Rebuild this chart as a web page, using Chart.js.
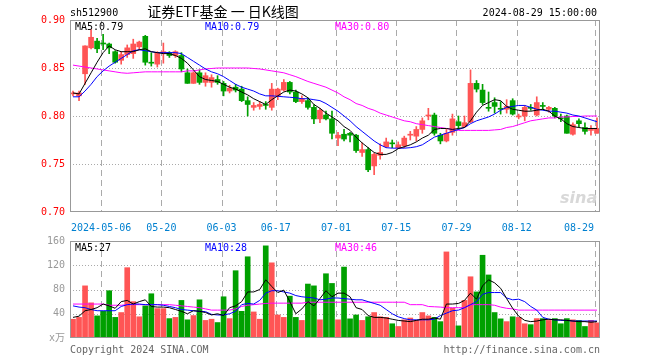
<!DOCTYPE html>
<html><head><meta charset="utf-8">
<script src="https://cdn.jsdelivr.net/npm/chart.js@4.4.1/dist/chart.umd.min.js"></script>
<style>
html,body{margin:0;padding:0;background:#fff;width:660px;height:360px;overflow:hidden;position:relative}
canvas{position:absolute;left:0}
.t{position:absolute;white-space:pre;font-family:"DejaVu Sans Mono",monospace;font-size:10px;line-height:10px}
</style></head><body>
<canvas id="pc" width="660" height="236" style="top:0"></canvas>
<canvas id="vc" width="660" height="134" style="top:226px"></canvas>
<div class="t" style="left:70px;top:8px;color:#000">sh512900</div>
<div class="t" style="left:123px;top:3px;width:200px;text-align:center;font-family:'Noto Sans CJK SC',sans-serif;font-size:14px;line-height:16px;color:#000">证券ETF基金 一 日K线图</div>
<div class="t" style="left:397px;top:8px;width:200px;text-align:right;color:#000">2024-08-29 15:00:00</div>
<div id="m5" class="t" style="left:75px;top:22px;color:#000"></div>
<div id="m10" class="t" style="left:205px;top:22px;color:#0000ff"></div>
<div id="m30" class="t" style="left:335px;top:22px;color:#ff00ff"></div>
<div id="v5" class="t" style="left:75px;top:243px;color:#000"></div>
<div id="v10" class="t" style="left:205px;top:243px;color:#0000ff"></div>
<div id="v30" class="t" style="left:335px;top:243px;color:#ff00ff"></div>
<div class="t" style="left:70px;top:345px;color:#666">Copyright 2024 SINA.COM</div>
<div class="t" style="left:400px;top:345px;width:200px;text-align:right;color:#666">http://finance.sina.com.cn</div>
<div class="t" style="left:560px;top:190px;font-family:'DejaVu Sans',sans-serif;font-style:italic;font-weight:bold;font-size:16px;line-height:16px;color:#d8d8d8">sina</div>
<script>
const dates = ['2024-04-24','2024-04-25','2024-04-26','2024-04-29','2024-04-30',
'2024-05-06','2024-05-07','2024-05-08','2024-05-09','2024-05-10','2024-05-13','2024-05-14','2024-05-15','2024-05-16','2024-05-17',
'2024-05-20','2024-05-21','2024-05-22','2024-05-23','2024-05-24','2024-05-27','2024-05-28','2024-05-29','2024-05-30','2024-05-31',
'2024-06-03','2024-06-04','2024-06-05','2024-06-06','2024-06-07','2024-06-11','2024-06-12','2024-06-13','2024-06-14',
'2024-06-17','2024-06-18','2024-06-19','2024-06-20','2024-06-21','2024-06-24','2024-06-25','2024-06-26','2024-06-27','2024-06-28',
'2024-07-01','2024-07-02','2024-07-03','2024-07-04','2024-07-05','2024-07-08','2024-07-09','2024-07-10','2024-07-11','2024-07-12',
'2024-07-15','2024-07-16','2024-07-17','2024-07-18','2024-07-19','2024-07-22','2024-07-23','2024-07-24','2024-07-25','2024-07-26',
'2024-07-29','2024-07-30','2024-07-31','2024-08-01','2024-08-02','2024-08-05','2024-08-06','2024-08-07','2024-08-08','2024-08-09',
'2024-08-12','2024-08-13','2024-08-14','2024-08-15','2024-08-16','2024-08-19','2024-08-20','2024-08-21','2024-08-22','2024-08-23',
'2024-08-26','2024-08-27','2024-08-28','2024-08-29'];

const opens = [0.823,0.821,0.844,0.871,0.878,0.876,0.875,0.867,0.858,0.864, 0.865,0.872,0.883,0.856,0.854,0.866,0.866,0.863,0.863,0.845,
0.834,0.845,0.835,0.835,0.838,0.834,0.826,0.830,0.828,0.816, 0.809,0.810,0.812,0.809,0.821,0.827,0.835,0.825,0.815,0.816,
0.809,0.797,0.801,0.797,0.777,0.781,0.782,0.780,0.762,0.765, 0.748,0.759,0.768,0.772,0.767,0.769,0.780,0.779,0.786,0.800,
0.801,0.780,0.774,0.783,0.794,0.789,0.794,0.834,0.827,0.809, 0.814,0.808,0.807,0.816,0.799,0.800,0.809,0.801,0.811,0.807,
0.808,0.798,0.800,0.781,0.795,0.788,0.785,0.782];
const highs = [0.826,0.826,0.873,0.890,0.881,0.885,0.876,0.868,0.867,0.874, 0.880,0.878,0.884,0.866,0.867,0.876,0.867,0.868,0.866,0.849,
0.846,0.848,0.845,0.843,0.842,0.836,0.832,0.833,0.831,0.820, 0.814,0.815,0.815,0.834,0.829,0.838,0.836,0.827,0.821,0.819,
0.812,0.808,0.805,0.805,0.783,0.786,0.783,0.781,0.772,0.767, 0.761,0.771,0.777,0.775,0.773,0.779,0.784,0.789,0.798,0.808,
0.803,0.782,0.786,0.802,0.800,0.800,0.848,0.837,0.833,0.825, 0.819,0.815,0.817,0.818,0.802,0.811,0.812,0.820,0.814,0.810,
0.809,0.802,0.801,0.793,0.797,0.793,0.790,0.798];
const lows = [0.821,0.816,0.833,0.870,0.866,0.869,0.865,0.855,0.854,0.861, 0.860,0.869,0.853,0.852,0.851,0.855,0.861,0.861,0.846,0.834,
0.834,0.833,0.831,0.830,0.833,0.821,0.824,0.825,0.815,0.800, 0.806,0.807,0.807,0.806,0.817,0.826,0.823,0.814,0.813,0.807,
0.792,0.793,0.796,0.776,0.769,0.774,0.773,0.762,0.758,0.742, 0.739,0.755,0.767,0.767,0.766,0.767,0.775,0.774,0.782,0.796,
0.780,0.771,0.773,0.780,0.786,0.788,0.793,0.825,0.812,0.805, 0.803,0.802,0.803,0.801,0.797,0.795,0.806,0.800,0.807,0.804,
0.798,0.794,0.782,0.780,0.789,0.781,0.780,0.782];
const closes = [0.824,0.824,0.873,0.882,0.870,0.875,0.871,0.856,0.864,0.871, 0.875,0.877,0.856,0.855,0.866,0.867,0.863,0.867,0.849,0.834,
0.845,0.835,0.842,0.840,0.835,0.826,0.829,0.827,0.816,0.812, 0.811,0.812,0.811,0.828,0.828,0.835,0.825,0.815,0.818,0.809,
0.797,0.806,0.797,0.782,0.780,0.776,0.780,0.764,0.765,0.744, 0.760,0.762,0.773,0.771,0.770,0.777,0.781,0.786,0.795,0.801,
0.782,0.774,0.782,0.797,0.790,0.793,0.834,0.828,0.814,0.808, 0.810,0.807,0.810,0.802,0.800,0.809,0.808,0.814,0.810,0.809,
0.800,0.797,0.782,0.791,0.792,0.784,0.786,0.787];

const ma5 = [0.824,0.823,0.834,0.845,0.856,0.866,0.873,0.869,0.867,0.867, 0.867,0.869,0.870,0.867,0.866,0.865,0.865,0.863,0.860,0.855,
0.848,0.841,0.838,0.837,0.836,0.833,0.830,0.828,0.825,0.822, 0.818,0.815,0.812,0.817,0.821,0.825,0.827,0.826,0.823,0.819,
0.812,0.808,0.803,0.799,0.795,0.789,0.785,0.778,0.772,0.767, 0.762,0.760,0.760,0.762,0.766,0.768,0.770,0.773,0.777,0.780,
0.786,0.787,0.787,0.786,0.787,0.788,0.795,0.804,0.811,0.814, 0.817,0.816,0.810,0.807,0.806,0.805,0.805,0.806,0.807,0.805,
0.800,0.797,0.792,0.789,0.788,0.787,0.787,0.787];
const ma10 = [0.820,0.820,0.826,0.833,0.841,0.847,0.852,0.856,0.860,0.864, 0.868,0.869,0.868,0.867,0.866,0.866,0.866,0.866,0.865,0.861,
0.857,0.853,0.849,0.846,0.844,0.841,0.837,0.833,0.830,0.828, 0.826,0.823,0.821,0.821,0.8205,0.820,0.8195,0.819,0.818,0.818,
0.817,0.816,0.813,0.809,0.805,0.800,0.795,0.789,0.784,0.779, 0.774,0.770,0.767,0.7665,0.7665,0.7665,0.767,0.768,0.770,0.774,
0.778,0.780,0.782,0.784,0.786,0.788,0.792,0.795,0.797,0.799, 0.802,0.806,0.809,0.810,0.811,0.811,0.809,0.807,0.806,0.805,
0.805,0.804,0.803,0.801,0.800,0.798,0.796,0.794];
const ma30 = [0.853,0.852,0.851,0.850,0.849,0.848,0.847,0.846,0.845,0.8445, 0.845,0.8455,0.846,0.846,0.846,0.846,0.846,0.846,0.846,0.847,
0.847,0.848,0.849,0.8495,0.850,0.850,0.850,0.850,0.850,0.850, 0.8495,0.849,0.848,0.847,0.846,0.845,0.843,0.841,0.8385,0.836,
0.834,0.832,0.830,0.827,0.824,0.820,0.817,0.813,0.811,0.808, 0.806,0.803,0.801,0.799,0.797,0.795,0.794,0.792,0.791,0.790,
0.789,0.788,0.787,0.786,0.785,0.785,0.785,0.785,0.785,0.785, 0.7855,0.786,0.788,0.789,0.791,0.793,0.795,0.796,0.797,0.798,
0.798,0.799,0.799,0.7995,0.7995,0.800,0.800,0.800];

const volumes = [31,34,86,58,36.5,44,78,34,42,116, 60,35,53,73,48.5,48.5,32,34,62,30,
37,63,29,31,25.5,68,32,111,44,134, 43,31,152,124,38,34,69,34,29,89,
86,30,106,90,30,117,31.6,38,29,35, 42,35,34,23.5,19,30,33,29,42,36.5,
34,27,142,49,20,62,101,76,136.5,104, 42,31.6,27,35,34,23.5,22,32,32,29,
32,23.5,32,30,29,19,29,25];
const volMa5 = [34,36,45,47,50,56,53,49,60,62, 56,60,63,52,51,51,50,47,44,40,
45,44,42,38,40,37,50,53,60,76, 76,80,96,85,75,79,60,40,48,60,
53,65,78,68,74,74,68,50,47,37, 34,34,33,31,29,28,27,29,31,31,
33,31,56,56,57,62,74,64,86,96, 91,82,65,49,36,29,27,28,30,31,
30,30,29,28,27,27,26,27];
const volMa10 = [53,51,50,47,45,45,45,45,52,55, 56,56,55,55,55,54,52,50,47,46,
45,44,43.5,39,38,38,40,44,55,57, 56,62,74,78,78,76,74,70,68,67,
66,63,64,66,66,65,64,63,63,60, 57,54,47,40,35,32,30,30,30,30,
31,37,41,45,46,50,55,60,72,75, 75,75,66,63,64,60,52,46,34,31,
30,29,29,28,28,28,28,28];
const volMa30 = [56,56,56,56,56,56,54,54,54,55, 55,55,55,55,55,55,55,54,53,52,
51,50,48,46,46,46,46,48,52,54, 55,56,57,57.5,57.5,57.5,57.5,57.5,57.5,59,
59,59,59,59,59,59,59,59,59,59, 59,59,59,59,59,59,55,55,55,52,
51.5,51,50,50,50,50,55,55,55,55, 54,51,49,48,46,46,46,46,46,46,
46,46,46,46,46,46,46,46];

const priceTicks = [0.70,0.75,0.80,0.85,0.90];
const priceGrid = [0.75,0.80,0.85];
const volTicks = [0,40,80,120,160];
const volGrid = [40,80,120];
const dateTickDates = ['2024-05-06','2024-05-20','2024-06-03','2024-06-17','2024-07-01','2024-07-15','2024-07-29','2024-08-12','2024-08-29'];
const dateTickLabels = ['2024-05-06','05-20','06-03','06-17','07-01','07-15','07-29','08-12','08-29'];

const RED = '#ff5555', GREEN = '#00a000';
const colors = opens.map((o,i)=> closes[i] >= o ? RED : GREEN);
const tickIdx = dateTickDates.map(d => dates.indexOf(d));
const MONO = '"DejaVu Sans Mono", "Noto Sans CJK SC", monospace';

const last = a => a[a.length-1];
document.getElementById('m5').textContent = 'MA5:' + last(ma5).toFixed(2);
document.getElementById('m10').textContent = 'MA10:' + last(ma10).toFixed(2);
document.getElementById('m30').textContent = 'MA30:' + last(ma30).toFixed(2);
document.getElementById('v5').textContent = 'MA5:' + Math.round(last(volMa5));
document.getElementById('v10').textContent = 'MA10:' + Math.round(last(volMa10));
document.getElementById('v30').textContent = 'MA30:' + Math.round(last(volMa30));

function framePlugin(hLines, withDates){
  return {
    id:'frame',
    beforeDatasetsDraw(chart){
      const {ctx, chartArea:a, scales:{x,y}} = chart;
      ctx.save();
      ctx.lineWidth = 1;
      ctx.strokeStyle = '#aaaaaa';
      ctx.setLineDash([1,2]);
      hLines.forEach(v=>{
        const py = Math.round(y.getPixelForValue(v)) + 0.5;
        ctx.beginPath(); ctx.moveTo(a.left, py); ctx.lineTo(a.right, py); ctx.stroke();
      });
      ctx.setLineDash([6,4]);
      tickIdx.forEach(i=>{
        const px = Math.round(x.getPixelForValue(i) - 2) + 0.5;
        ctx.beginPath(); ctx.moveTo(px, a.top); ctx.lineTo(px, a.bottom); ctx.stroke();
      });
      ctx.restore();
    },
    afterDraw(chart){
      const {ctx, chartArea:a, scales:{x}} = chart;
      ctx.save();
      ctx.strokeStyle = '#999999'; ctx.lineWidth = 1; ctx.setLineDash([]);
      ctx.strokeRect(Math.round(a.left)+0.5, Math.round(a.top)+0.5, Math.round(a.width)-1, Math.round(a.height)-1);
      if (withDates){
        ctx.font = '10px ' + MONO;
        ctx.fillStyle = '#0080d0';
        ctx.textBaseline = 'middle';
        ctx.textAlign = 'left';
        tickIdx.forEach((idx,k)=>{
          const lab = dateTickLabels[k];
          const w = ctx.measureText(lab).width;
          let tx = x.getPixelForValue(idx) - 2 - w/2;
          tx = Math.max(a.left, Math.min(tx, a.right - 6 - w));
          ctx.fillText(lab, tx, a.bottom + 16);
        });
      }
      ctx.restore();
    }
  };
}

const common = {
  responsive:false, animation:false, events:[],
  plugins:{legend:{display:false}, tooltip:{enabled:false}},
};

function lineDs(data, color){
  return {type:'line', data, borderColor:color, borderWidth:1, pointRadius:0, fill:false, tension:0, order:0};
}

new Chart(document.getElementById('pc'), {
  data:{
    labels: dates,
    datasets:[
      {type:'bar', data: lows.map((l,i)=>[l, highs[i]]), backgroundColor: colors, barThickness:1, grouped:false, order:2},
      {type:'bar', data: opens.map((o,i)=>[o, closes[i]]), backgroundColor: colors, barThickness:5, grouped:false, minBarLength:1, order:1},
      lineDs(ma5, '#000000'),
      lineDs(ma10, '#0000ff'),
      lineDs(ma30, '#ff00ff')
    ]
  },
  options:{
    ...common,
    layout:{padding:{left:0, right:60, top:20, bottom:24}},
    scales:{
      x:{type:'category', display:false, offset:true},
      y:{
        min:0.70, max:0.90, position:'left',
        afterFit(s){ s.width = 70; },
        afterBuildTicks(s){ s.ticks = priceTicks.map(v=>({value:v})); },
        ticks:{color:'#ff0000', padding:5, font:{family:MONO, size:10}, callback:v=>Number(v).toFixed(2)},
        grid:{display:false, drawTicks:false},
        border:{display:false}
      }
    }
  },
  plugins:[framePlugin(priceGrid, true)]
});

new Chart(document.getElementById('vc'), {
  data:{
    labels: dates,
    datasets:[
      {type:'bar', data: volumes, backgroundColor: colors, barThickness:5, grouped:false, order:1},
      lineDs(volMa5, '#000000'),
      lineDs(volMa10, '#0000ff'),
      lineDs(volMa30, '#ff00ff')
    ]
  },
  options:{
    ...common,
    layout:{padding:{left:0, right:60, top:15, bottom:22}},
    scales:{
      x:{type:'category', display:false, offset:true},
      y:{
        min:0, max:160, position:'left',
        afterFit(s){ s.width = 70; },
        afterBuildTicks(s){ s.ticks = volTicks.map(v=>({value:v})); },
        ticks:{color:'#999999', padding:5, font:{family:MONO, size:10}, callback:v=> v===0 ? 'x万' : String(v)},
        grid:{display:false, drawTicks:false},
        border:{display:false}
      }
    }
  },
  plugins:[framePlugin(volGrid, false)]
});
</script>
</body></html>
